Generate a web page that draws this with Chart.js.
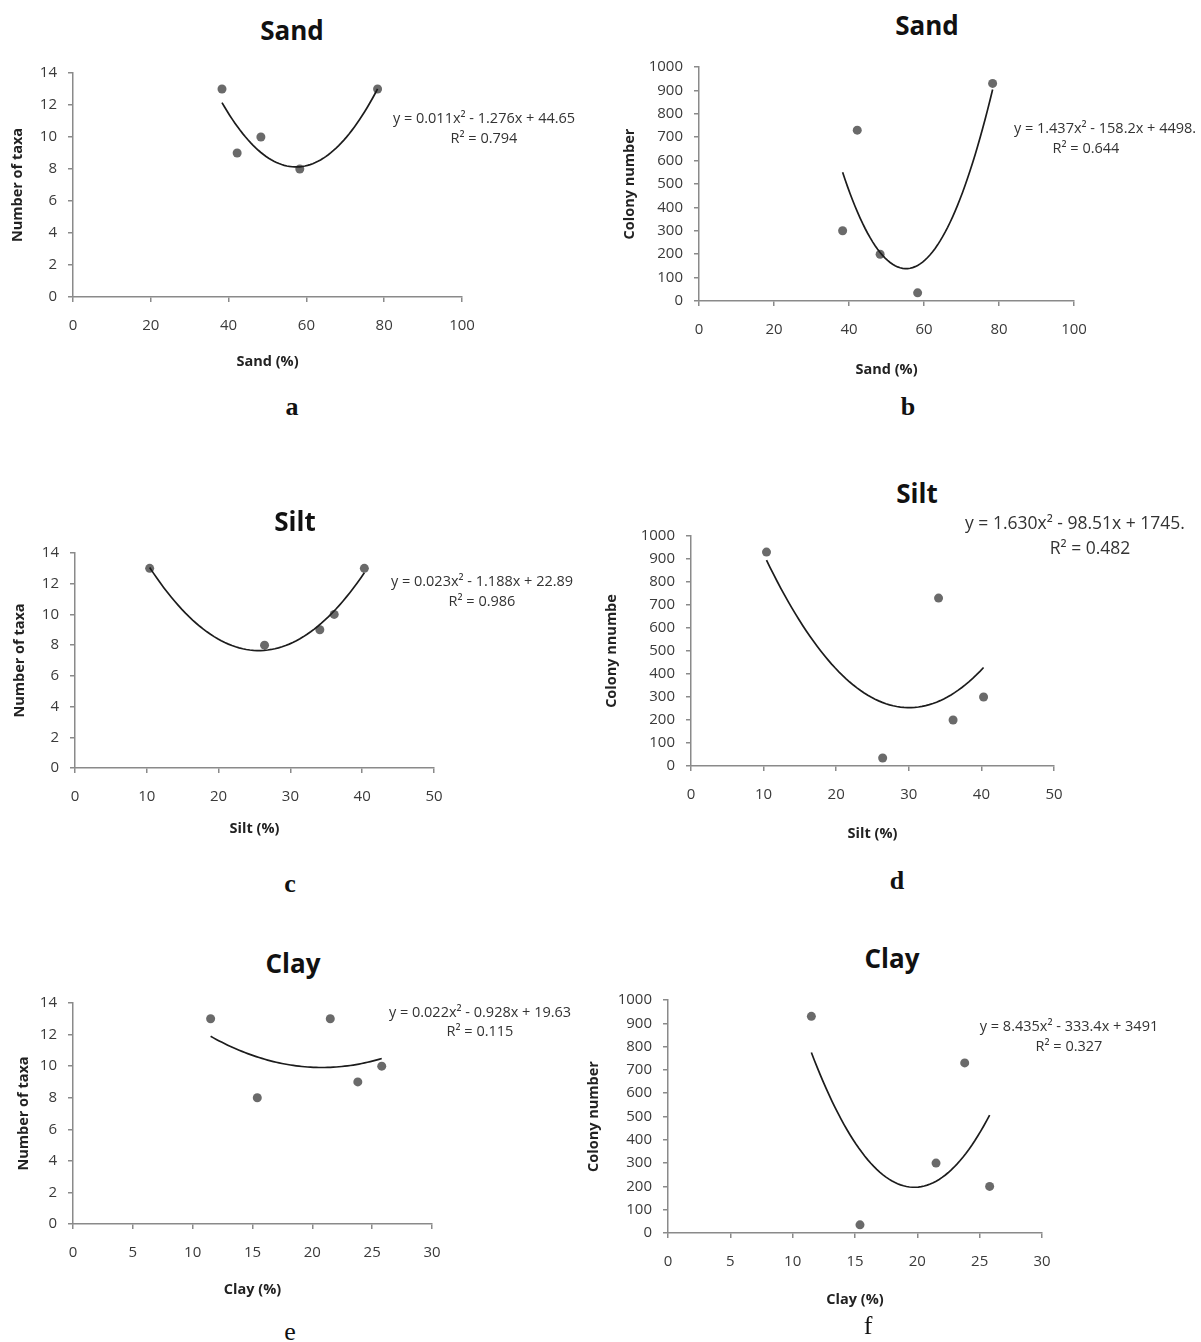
<!DOCTYPE html>
<html lang="en">
<head>
  <meta charset="UTF-8">
  <title>Soil texture vs taxa and colonies</title>
  <style>
    body {
      margin: 0;
      background: #fff;
      font-family: "Open Sans", Arial, sans-serif;
    }
    .page {
      position: relative;
      width: 1201px;
      height: 1342px;
      overflow: hidden;
    }
    canvas {
      position: absolute;
    }
    .title, .letter, .eq {
      position: absolute;
      transform: translate(-50%, -50%);
      white-space: nowrap;
    }
    .title {
      font-size: 26px;
      font-weight: bold;
      color: #111;
    }
    .letter {
      font-family: "Liberation Serif", "DejaVu Serif", serif;
      font-size: 26px;
      color: #111;
    }
    .letter.bold { font-weight: bold; }
    .eq {
      font-size: 14.5px;
      color: #333;
      z-index: 2;
    }
  </style>
</head>
<body>
<div class="page" id="page"></div>

<script src="https://cdn.jsdelivr.net/npm/chart.js"></script>
<script>
  // five soil samples, same order in every array
  const sandPct = [38.3, 42.2, 48.3, 58.3, 78.3];
  const siltPct = [40.3, 34.1, 36.1, 26.4, 10.4];
  const clayPct = [21.5, 23.8, 25.8, 15.4, 11.5];
  const taxaCount = [13, 9, 10, 8, 13];
  const colonyCount = [300, 730, 200, 35, 930];

  // equation labels as printed on the figure
  const eqTexts = {
    a: ['y = 0.011x² - 1.276x + 44.65', 'R² = 0.794'],
    b: ['y = 1.437x² - 158.2x + 4498.', 'R² = 0.644'],
    c: ['y = 0.023x² - 1.188x + 22.89', 'R² = 0.986'],
    d: ['y = 1.630x² - 98.51x + 1745.', 'R² = 0.482'],
    e: ['y = 0.022x² - 0.928x + 19.63', 'R² = 0.115'],
    f: ['y = 8.435x² - 333.4x + 3491', 'R² = 0.327']
  };

  const panels = [
    { id: 'a', title: 'Sand', tpos: [292, 30], lpos: [292, 407], bold: true,
      xs: sandPct, ys: taxaCount, xMax: 100, xStep: 20, yMax: 14, yStep: 2,
      xTitle: 'Sand (%)', yTitle: 'Number of taxa',
      area: { l: 73, t: 73, r: 462, b: 297 }, yTitleX: 18, xTitleY: 362,
      eq: [[484, 117], [484, 137]] },
    { id: 'b', title: 'Sand', tpos: [927, 25], lpos: [908, 407], bold: true,
      xs: sandPct, ys: colonyCount, xMax: 100, xStep: 20, yMax: 1000, yStep: 100,
      xTitle: 'Sand (%)', yTitle: 'Colony number',
      area: { l: 699, t: 67, r: 1074, b: 301 }, yTitleX: 630, xTitleY: 370,
      eq: [[1105, 127], [1086, 147]] },
    { id: 'c', title: 'Silt', tpos: [295, 521], lpos: [290, 884], bold: true,
      xs: siltPct, ys: taxaCount, xMax: 50, xStep: 10, yMax: 14, yStep: 2,
      xTitle: 'Silt (%)', yTitle: 'Number of taxa',
      area: { l: 75, t: 553, r: 434, b: 768 }, yTitleX: 20, xTitleY: 829,
      eq: [[482, 580], [482, 600]] },
    { id: 'd', title: 'Silt', tpos: [917, 493], lpos: [897, 881], bold: true,
      xs: siltPct, ys: colonyCount, xMax: 50, xStep: 10, yMax: 1000, yStep: 100,
      xTitle: 'Silt (%)', yTitle: 'Colony nnumbe',
      area: { l: 691, t: 536, r: 1054, b: 766 }, yTitleX: 612, xTitleY: 834,
      eq: [[1075, 522], [1090, 547]], size: 17.5 },
    { id: 'e', title: 'Clay', tpos: [293, 963], lpos: [290, 1332], bold: false,
      xs: clayPct, ys: taxaCount, xMax: 30, xStep: 5, yMax: 14, yStep: 2,
      xTitle: 'Clay (%)', yTitle: 'Number of taxa',
      area: { l: 73, t: 1003, r: 432, b: 1224 }, yTitleX: 24, xTitleY: 1290,
      eq: [[480, 1011], [480, 1030]] },
    { id: 'f', title: 'Clay', tpos: [892, 958], lpos: [868, 1326], bold: false,
      xs: clayPct, ys: colonyCount, xMax: 30, xStep: 5, yMax: 1000, yStep: 100,
      xTitle: 'Clay (%)', yTitle: 'Colony number',
      area: { l: 668, t: 1000, r: 1042, b: 1233 }, yTitleX: 594, xTitleY: 1300,
      eq: [[1069, 1025], [1069, 1045]] }
  ];

  // least squares quadratic, returns [c0, c1, c2]
  function fitQuadratic(xs, ys) {
    const s = [0, 0, 0, 0, 0], t = [0, 0, 0];
    xs.forEach((x, i) => {
      for (let k = 0; k < 5; k++) s[k] += Math.pow(x, k);
      for (let k = 0; k < 3; k++) t[k] += ys[i] * Math.pow(x, k);
    });
    const A = [[s[0], s[1], s[2], t[0]], [s[1], s[2], s[3], t[1]], [s[2], s[3], s[4], t[2]]];
    for (let i = 0; i < 3; i++) {
      for (let j = i + 1; j < 3; j++) {
        const f = A[j][i] / A[i][i];
        for (let k = i; k < 4; k++) A[j][k] -= f * A[i][k];
      }
    }
    const c = [0, 0, 0];
    for (let i = 2; i >= 0; i--) {
      let v = A[i][3];
      for (let k = i + 1; k < 3; k++) v -= A[i][k] * c[k];
      c[i] = v / A[i][i];
    }
    return c;
  }

  function trendPoints(xs, ys) {
    const c = fitQuadratic(xs, ys);
    const lo = Math.min(...xs), hi = Math.max(...xs);
    const pts = [];
    for (let i = 0; i <= 60; i++) {
      const x = lo + (hi - lo) * i / 60;
      pts.push({ x: x, y: c[0] + c[1] * x + c[2] * x * x });
    }
    return pts;
  }

  function addText(cls, text, x, y) {
    const el = document.createElement('div');
    el.className = cls;
    el.textContent = text;
    el.style.left = x + 'px';
    el.style.top = y + 'px';
    page.appendChild(el);
    return el;
  }

  const page = document.getElementById('page');
  const axisColor = '#8a8a8a';
  const tickFont = { family: '"Open Sans", Arial, sans-serif', size: 15 };
  const axisTitleFont = { family: '"Open Sans", Arial, sans-serif', size: 14.5, weight: 'bold' };

  panels.forEach(p => {
    const box = {
      left: p.yTitleX - 12,
      top: p.area.t - 20,
      right: p.area.r + 30,
      bottom: p.xTitleY + 12
    };
    const canvas = document.createElement('canvas');
    canvas.width = box.right - box.left;
    canvas.height = box.bottom - box.top;
    canvas.style.left = box.left + 'px';
    canvas.style.top = box.top + 'px';
    page.appendChild(canvas);

    addText('title', p.title, p.tpos[0], p.tpos[1]);
    addText('letter' + (p.bold ? ' bold' : ''), p.id, p.lpos[0], p.lpos[1]);
    eqTexts[p.id].forEach((line, i) => {
      const el = addText('eq', line, p.eq[i][0], p.eq[i][1]);
      if (p.size) el.style.fontSize = p.size + 'px';
    });

    const points = p.xs.map((x, i) => ({ x: x, y: p.ys[i] }));

    new Chart(canvas, {
      type: 'scatter',
      data: {
        datasets: [
          {
            data: points,
            pointRadius: 4.5,
            pointBackgroundColor: '#6a6a6a',
            pointBorderWidth: 0,
            order: 1
          },
          {
            data: trendPoints(p.xs, p.ys),
            showLine: true,
            borderColor: '#1c1c1c',
            borderWidth: 1.7,
            pointRadius: 0,
            fill: false,
            order: 0
          }
        ]
      },
      options: {
        responsive: false,
        animation: false,
        layout: {
          padding: { left: 0, bottom: 0, top: p.area.t - box.top, right: box.right - p.area.r }
        },
        plugins: {
          legend: { display: false },
          tooltip: { enabled: false }
        },
        scales: {
          x: {
            type: 'linear',
            min: 0,
            max: p.xMax,
            ticks: { stepSize: p.xStep, font: tickFont, color: '#3a3a3a', padding: 15, callback: v => String(v) },
            grid: { drawOnChartArea: false, color: axisColor, tickLength: 5, lineWidth: 1.5 },
            border: { color: axisColor, width: 1.5 },
            title: { display: true, text: p.xTitle, font: axisTitleFont, color: '#222', padding: { top: 0, bottom: 3 } },
            afterFit: s => { s.height = box.bottom - p.area.b; }
          },
          y: {
            min: 0,
            max: p.yMax,
            ticks: { stepSize: p.yStep, font: tickFont, color: '#3a3a3a', padding: 11, callback: v => String(v) },
            grid: { drawOnChartArea: false, color: axisColor, tickLength: 5, lineWidth: 1.5 },
            border: { color: axisColor, width: 1.5 },
            title: { display: true, text: p.yTitle, font: axisTitleFont, color: '#222', padding: { top: 3, bottom: 0 } },
            afterFit: s => { s.width = p.area.l - box.left; }
          }
        }
      }
    });
  });
</script>
</body>
</html>
